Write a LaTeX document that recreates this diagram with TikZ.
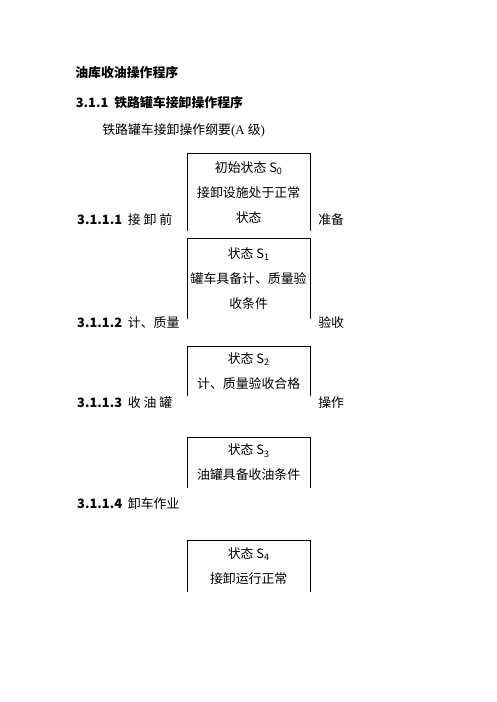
\documentclass[tikz,border=0pt]{standalone}
\usepackage{fontspec}
\setmainfont{Liberation Serif}
\newfontfamily\cjk{Noto Sans CJK SC}
\usetikzlibrary{positioning}

\tikzset{
    state box/.style={
        minimum width=5.21cm,inner sep=0pt,anchor=north,
        align=center,
        font=\cjk\fontsize{15.5pt}{30pt}\selectfont
    },
    frame/.style={line width=.9pt},
    step label/.style={
        anchor=west,inner sep=0pt,
        font=\cjk\fontsize{15.5pt}{18pt}\selectfont
    },
    head/.style={anchor=west,inner sep=0pt,font=\cjk\bfseries\fontsize{15.5pt}{18pt}\selectfont}
}

\begin{document}
\begin{tikzpicture}
    \useasboundingbox (0,0) rectangle (21,-29.7);
    \node[head] (title) at (3.18,-3.09) {油库收油操作程序};
    \node[head] (sec) at (3.2,-4.36) {3.1.1\ \ 铁路罐车接卸操作程序};
    \node[step label] (sub) at (4.32,-5.50) {铁路罐车接卸操作纲要{\rmfamily(A }级{\rmfamily)}};
    % open boxes
    \foreach \name/\top/\hgt/\txt in {
        s0/-6.48/3.30/{初始状态 S\textsubscript{0}\\接卸设施处于正常\\状态},
        s1/-10.08/3.39/{状态 S\textsubscript{1}\\罐车具备计、质量验\\收条件},
        s2/-14.65/2.07/{状态 S\textsubscript{2}\\计、质量验收合格},
        s3/-18.50/2.12/{状态 S\textsubscript{3}\\油罐具备收油条件},
        s4/-22.86/2.16/{状态 S\textsubscript{4}\\接卸运行正常}}
    {
        \node[state box,minimum height=\hgt cm] (\name) at (10.52,\top) {\txt};
        \draw[frame] (\name.south west) |- (\name.north) -| (\name.south east);
    }
    % steps
    \foreach \i/\y/\lab/\rlab in {
        1/-9.27/{接 卸 前}/准备,
        2/-13.63/{计、质量}/验收,
        3/-17.02/{收 油 罐}/操作,
        4/-21.30/{卸车作业}/{}}
    {
        \node[step label] (l\i) at (3.26,\y) {{\bfseries 3.1.1.\i}\ \ \lab};
        \node[step label] (r\i) at (13.46,\y) {\rlab};
    }
\end{tikzpicture}
\end{document}
